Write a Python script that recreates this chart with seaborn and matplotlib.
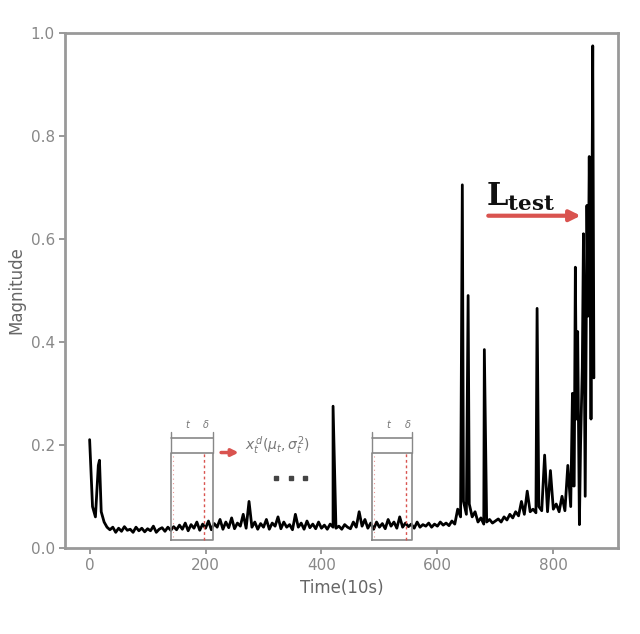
import pandas as pd
import matplotlib
matplotlib.use("Agg")
import matplotlib.pyplot as plt
import seaborn as sns

# baseline magnitude, sampled every 5 time steps (0 .. 870)
base_time = list(range(0, 875, 5))
base_mag = [
    0.21, 0.08, 0.06, 0.16, 0.07, 0.05, 0.04, 0.035, 0.04, 0.03,
    0.038, 0.032, 0.041, 0.034, 0.036, 0.03, 0.04, 0.033, 0.038, 0.031,
    0.037, 0.033, 0.042, 0.03, 0.036, 0.039, 0.032, 0.04, 0.034, 0.041,
    0.035, 0.044, 0.036, 0.048, 0.033, 0.045, 0.038, 0.05, 0.034, 0.046,
    0.038, 0.052, 0.035, 0.047, 0.04, 0.055, 0.036, 0.05, 0.039, 0.058,
    0.037, 0.048, 0.042, 0.065, 0.038, 0.09, 0.04, 0.05, 0.036, 0.047,
    0.04, 0.055, 0.036, 0.048, 0.042, 0.06, 0.037, 0.05, 0.04, 0.045,
    0.035, 0.065, 0.04, 0.048, 0.036, 0.052, 0.039, 0.046, 0.037, 0.05,
    0.038, 0.044, 0.036, 0.046, 0.04, 0.038, 0.042, 0.036, 0.045, 0.04,
    0.037, 0.05, 0.04, 0.07, 0.042, 0.055, 0.038, 0.048, 0.036, 0.05,
    0.04, 0.047, 0.037, 0.055, 0.042, 0.05, 0.038, 0.06, 0.04, 0.048,
    0.041, 0.046, 0.038, 0.05, 0.04, 0.045, 0.042, 0.048, 0.04, 0.046,
    0.042, 0.05, 0.044, 0.048, 0.043, 0.052, 0.046, 0.075, 0.06, 0.09,
    0.065, 0.085, 0.06, 0.07, 0.05, 0.058, 0.046, 0.05, 0.055, 0.048,
    0.052, 0.056, 0.05, 0.06, 0.054, 0.065, 0.058, 0.07, 0.062, 0.09,
    0.065, 0.11, 0.07, 0.075, 0.068, 0.08, 0.072, 0.18, 0.07, 0.15,
    0.075, 0.085, 0.07, 0.1, 0.072, 0.16, 0.08, 0.12, 0.25, 0.045,
    0.35, 0.1, 0.45, 0.25, 0.33,
]

# sharp spikes between the samples
spike_time = [17, 420, 643, 653, 681, 772, 833, 836, 838, 842, 847, 852, 856, 858, 862, 864, 868]
spike_mag = [0.17, 0.275, 0.705, 0.49, 0.385, 0.465, 0.3, 0.12, 0.545, 0.42, 0.2, 0.61, 0.3, 0.665, 0.76, 0.45, 0.975]

df = pd.concat([
    pd.DataFrame({"time": base_time, "magnitude": base_mag}),
    pd.DataFrame({"time": spike_time, "magnitude": spike_mag}),
]).sort_values("time").reset_index(drop=True)

sns.set_style("white")
plt.rcParams["font.family"] = ["DejaVu Sans"]

fig = plt.figure(figsize=(6.4, 6.34), dpi=100)
ax = fig.add_axes([0.102, 0.136, 0.864, 0.812])

sns.lineplot(data=df, x="time", y="magnitude", color="black", linewidth=2.0,
             estimator=None, sort=True, ax=ax)

ax.set_xlim(-42, 912)
ax.set_ylim(0, 1.0)
ax.set_xticks([0, 200, 400, 600, 800])
ax.set_yticks([0.0, 0.2, 0.4, 0.6, 0.8, 1.0])
ax.set_yticklabels(["0.0", "0.2", "0.4", "0.6", "0.8", "1.0"])
ax.set_xlabel("Time(10s)", fontsize=12, color="#666666")
ax.set_ylabel("Magnitude", fontsize=12, color="#666666")
ax.tick_params(axis="both", labelsize=11, colors="#888888", length=4, width=1.2,
               direction="out", left=True, bottom=True)
for sp in ax.spines.values():
    sp.set_color("#999999")
    sp.set_linewidth(2)

red = "#d9534f"
# sliding windows
for x0, x1, xr in [(141, 212, 197), (488, 557, 545)]:
    ax.plot([x0, x0, x1, x1, x0], [0.016, 0.184, 0.184, 0.016, 0.016],
            color="#888888", lw=1.2)
    ax.plot([x0, x1], [0.214, 0.214], color="#888888", lw=1.2)
    ax.plot([x0, x0], [0.184, 0.225], color="#888888", lw=1.0)
    ax.plot([x1, x1], [0.184, 0.225], color="#888888", lw=1.0)
    ax.plot([xr, xr], [0.016, 0.184], color=red, lw=1.0, ls=(0, (2, 2)))
    ax.plot([x0 + 2, x0 + 2], [0.02, 0.18], color=red, lw=0.8, ls=(0, (1, 3)), alpha=0.6)
    ax.text((x0 + xr) / 2, 0.232, r"$t$", fontsize=7, color="#777777", ha="center")
    ax.text(xr + 4, 0.232, r"$\delta$", fontsize=7, color="#777777", ha="center")

ax.annotate("", xy=(262, 0.185), xytext=(222, 0.185),
            arrowprops=dict(arrowstyle="-|>", color=red, lw=2.5, mutation_scale=10))
ax.text(268, 0.19, r"$x_t^{\,d}(\mu_t,\sigma_t^2)$", fontsize=10, color="#777777")
for xd in [321, 347, 372]:
    ax.plot(xd, 0.136, "s", color="#444444", markersize=3.5)

ax.text(684, 0.665, r"$\mathbf{L}_{\mathbf{test}}$", fontsize=22, color="#111111",
        math_fontfamily="dejavuserif")
ax.annotate("", xy=(852, 0.645), xytext=(683, 0.645),
            arrowprops=dict(arrowstyle="-|>", color=red, lw=3, mutation_scale=16))

fig.savefig("out.png", dpi=100, facecolor="white")
